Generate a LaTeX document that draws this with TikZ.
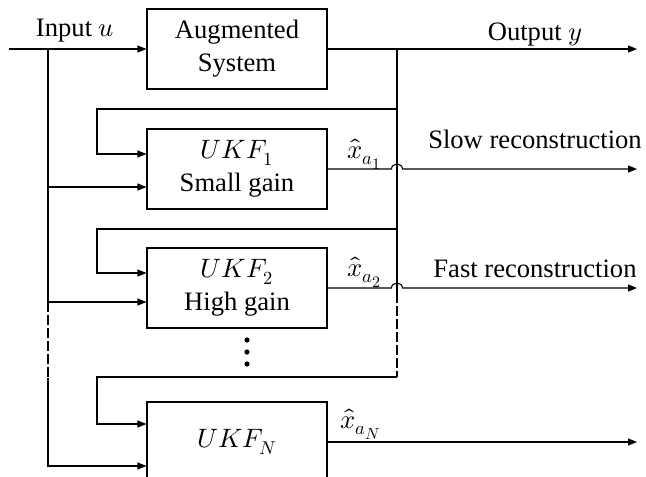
\documentclass[tikz,border=0pt]{standalone}
\usepackage{fontspec}
\usepackage{unicode-math}
\setmainfont{Liberation Serif}
\DeclareMathSizes{26.6}{26.6}{18.5}{16}
\usetikzlibrary{arrows.meta}
\begin{document}
\begin{tikzpicture}[x=1pt,y=-1pt,
  line width=1.1pt,
  box/.style={draw, rectangle, minimum width=180pt, minimum height=80pt, inner sep=0pt, align=center, font=\fontsize{26.6}{33}\selectfont},
  lbl/.style={font=\fontsize{26.6}{33}\selectfont, inner sep=0pt, anchor=base},
  arr/.style={-{Triangle[length=9pt,width=7pt]}},
  dsh/.style={dash pattern=on 10pt off 3pt}]
\useasboundingbox (0,0) rectangle (646,477);
\clip (0,0) rectangle (646,477);

% blocks
\node[box] (aug) at (237,49) {Augmented\\System};
\node[box] (k1) at (237,169) {$UKF_1$\\Small gain};
\node[box] (k2) at (237,288) {$UKF_2$\\High gain};
\node[box] (kN) at (237,442) {$UKF_N$};

% labels
\node[lbl] (inlbl) at (75,36) {Input $u$};
\node[lbl] (outlbl) at (535,40) {Output $y$};
\node[lbl] (slow) at (535,148) {Slow reconstruction};
\node[lbl] (fast) at (535,277) {Fast reconstruction};
\node[lbl] (xa1) at (364,158) {$\hat{x}_{a_1}$};
\node[lbl] (xa2) at (364,276) {$\hat{x}_{a_2}$};
\node[lbl] (xaN) at (361,428) {$\hat{x}_{a_N}$};

% coordinates
\coordinate (uin) at (9,49);
\coordinate (uj) at (48,49);
\coordinate (b1) at (48,187);
\coordinate (b2) at (48,302);
\coordinate (b3) at (48,378);
\coordinate (bN) at (48,466);
\coordinate (fj) at (397,49);
\coordinate (f1) at (397,109);
\coordinate (f1l) at (97,154);
\coordinate (f2) at (397,229);
\coordinate (f2l) at (97,273);
\coordinate (fv) at (397,293);
\coordinate (f3) at (397,377);
\coordinate (f3l) at (97,424);
\coordinate (yend) at (637,49);
\coordinate (e1) at (637,169);
\coordinate (e2) at (637,288);
\coordinate (eN) at (637,442);

% input
\draw[arr] (uin) -- (aug.west);
\draw (uj) -- (b2);
\draw[dsh] (b2) -- (b3);
\draw[arr] (b3) |- (kN.west |- bN);
\draw[arr] (b1) -- (k1.west |- b1);
\draw[arr] (b2) -- (k2.west |- b2);

% output
\draw[arr] (aug.east) -- (yend);

% feedback
\draw (fj) -- (fv);
\draw[dsh] (fv) -- (f3);
\draw[arr] (f1) -| (f1l) -- (k1.west |- f1l);
\draw[arr] (f2) -| (f2l) -- (k2.west |- f2l);
\draw[arr] (f3) -| (f3l) -- (kN.west |- f3l);

% filter outputs with hops
\draw[arr] (k1.east) -- (391.5,169) .. controls (391.5,162.5) and (402.5,162.5) .. (402.5,169) -- (e1);
\draw[arr] (k2.east) -- (391.5,288) .. controls (391.5,281.5) and (402.5,281.5) .. (402.5,288) -- (e2);
\draw[arr] (kN.east) -- (eN);

% dots
\fill (247,340) circle (2.6pt);
\fill (247,352) circle (2.6pt);
\fill (247,364) circle (2.6pt);
\end{tikzpicture}
\end{document}
